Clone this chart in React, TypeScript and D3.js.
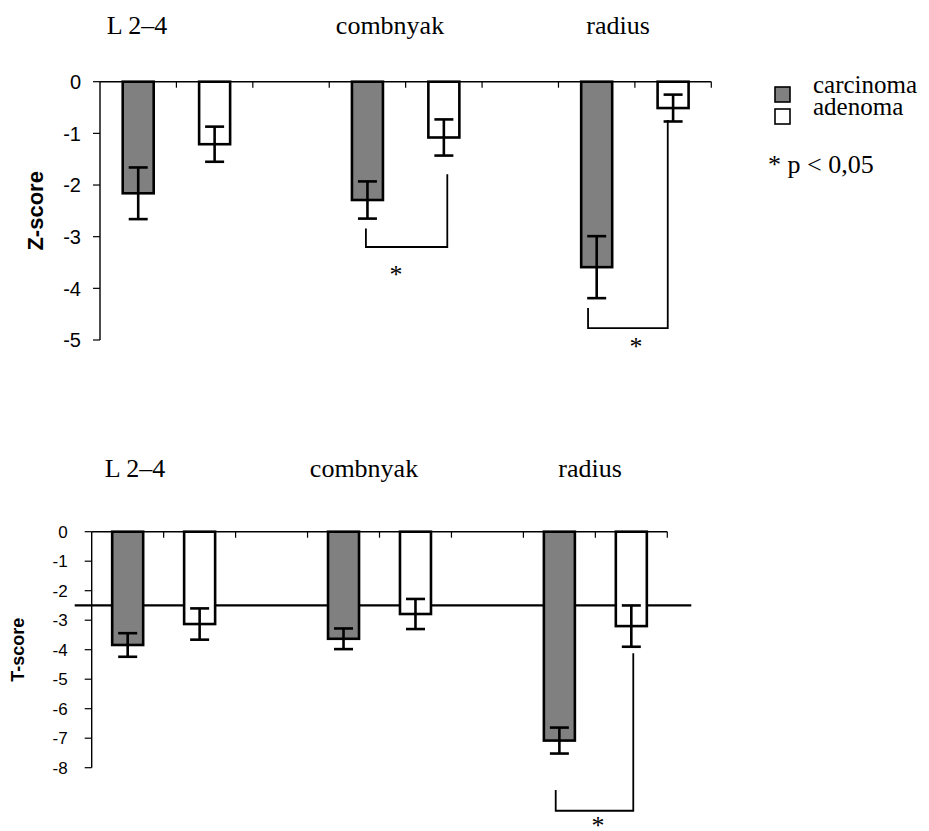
import React from 'react';
import * as d3 from 'd3';

const categories = ['L 2–4', 'combnyak', 'radius'];
const seriesNames = ['carcinoma', 'adenoma'];
const seriesFill = ['#808080', '#ffffff'];

const zCarcinoma = [-2.16, -2.29, -3.59];
const zCarcinomaErr = [0.5, 0.36, 0.6];
const zAdenoma = [-1.21, -1.08, -0.51];
const zAdenomaErr = [0.34, 0.35, 0.26];
const zTicks = [0, -1, -2, -3, -4, -5];

const tCarcinoma = [-3.84, -3.63, -7.08];
const tCarcinomaErr = [0.4, 0.35, 0.44];
const tAdenoma = [-3.13, -2.79, -3.2];
const tAdenomaErr = [0.53, 0.51, 0.7];
const tTicks = [0, -1, -2, -3, -4, -5, -6, -7, -8];
const tThreshold = -2.5;

// significance brackets: [left slot pos, left top value, bottom value, right slot pos, right top value, star slot pos, star value]
const zBrackets = [
  [3.48, -2.84, -3.2, 4.545, -1.79, 3.874, -3.66],
  [6.387, -4.38, -4.77, 7.43, -0.74, 7.015, -5.05],
];
const tBrackets = [[6.449, -8.76, -9.46, 7.527, -4.12, 7.037, -9.84]];

const slots = d3.range(8);

type PanelProps = {
  top: number;
  x0: number;
  x1: number;
  yMin: number;
  yBottom: number;
  ticks: number[];
  carc: number[];
  carcErr: number[];
  aden: number[];
  adenErr: number[];
  brackets: number[][];
  threshold?: number;
  title: string;
  titleX: number;
  titleSize: number;
  tickSize: number;
  tickGap: number;
  catLabelY: number;
  catLabelX: number[];
};

const serif = "'Liberation Serif', 'Times New Roman', serif";
const sans = "'Liberation Sans', Arial, sans-serif";

function Panel(p: PanelProps) {
  const x = d3.scaleBand<number>().domain(slots).range([p.x0, p.x1]).paddingInner(0).paddingOuter(0);
  const bw = x.bandwidth();
  const barW = 31;
  const slotX = d3.scaleLinear().domain([0, 8]).range([p.x0, p.x1]);
  const y = d3.scaleLinear().domain([0, p.yMin]).range([p.top, p.yBottom]);
  const bars: { slot: number; v: number; e: number; s: number }[] = [];
  categories.forEach((c, g) => {
    bars.push({ slot: g * 3, v: p.carc[g], e: p.carcErr[g], s: 0 });
    bars.push({ slot: g * 3 + 1, v: p.aden[g], e: p.adenErr[g], s: 1 });
  });
  const capW = 19;
  return (
    <g>
      {categories.map((c, i) => (
        <text key={c} x={p.catLabelX[i]} y={p.catLabelY} textAnchor="middle" fontFamily={serif} fontSize={26}>
          {c}
        </text>
      ))}
      {p.threshold !== undefined && (
        <line x1={p.x0 - 17} x2={p.x1 + 24} y1={y(p.threshold)} y2={y(p.threshold)} stroke="#000" strokeWidth={2.2} />
      )}
      {bars.map((b) => {
        const cx = (x(b.slot) as number) + bw / 2;
        return (
          <g key={b.slot}>
            <rect x={cx - barW / 2} y={y(0)} width={barW} height={y(b.v) - y(0)} fill={seriesFill[b.s]} stroke="#000" strokeWidth={2.6} />
            <line x1={cx} x2={cx} y1={y(b.v + b.e)} y2={y(b.v - b.e)} stroke="#000" strokeWidth={2.6} />
            <line x1={cx - capW / 2} x2={cx + capW / 2} y1={y(b.v + b.e)} y2={y(b.v + b.e)} stroke="#000" strokeWidth={2.6} />
            <line x1={cx - capW / 2} x2={cx + capW / 2} y1={y(b.v - b.e)} y2={y(b.v - b.e)} stroke="#000" strokeWidth={2.6} />
          </g>
        );
      })}
      <line x1={p.x0} x2={p.x1} y1={y(0)} y2={y(0)} stroke="#000" strokeWidth={1.4} />
      {d3.range(1, 9).map((i) => (
        <line key={i} x1={slotX(i)} x2={slotX(i)} y1={y(0)} y2={y(0) + 6} stroke="#000" strokeWidth={1.2} />
      ))}
      <line x1={p.x0} x2={p.x0} y1={y(0)} y2={y(p.yMin)} stroke="#000" strokeWidth={1.4} />
      {p.ticks.map((t) => (
        <g key={t}>
          <line x1={p.x0 - 7} x2={p.x0} y1={y(t)} y2={y(t)} stroke="#000" strokeWidth={1.2} />
          <text x={p.x0 - p.tickGap} y={y(t)} dy="0.36em" textAnchor="end" fontFamily={sans} fontSize={p.tickSize}>
            {String(t)}
          </text>
        </g>
      ))}
      <text
        transform={`translate(${p.titleX},${y(p.yMin / 2)}) rotate(-90)`}
        textAnchor="middle"
        dy="0.36em"
        fontFamily={sans}
        fontWeight="bold"
        fontSize={p.titleSize}
      >
        {p.title}
      </text>
      {p.brackets.map((b, i) => {
        const lx = slotX(b[0]);
        const rx = slotX(b[3]);
        const path = `M${lx},${y(b[1])}V${y(b[2])}H${rx}V${y(b[4])}`;
        return (
          <g key={i}>
            <path d={path} fill="none" stroke="#000" strokeWidth={1.8} />
            <text x={slotX(b[5])} y={y(b[6]) + 12} textAnchor="middle" fontFamily={serif} fontSize={26}>
              *
            </text>
          </g>
        );
      })}
    </g>
  );
}

export default function App() {
  return (
    <svg width={929} height={831} style={{ position: 'absolute', left: 0, top: 0, background: '#fff' }}>
      <rect width={929} height={831} fill="#fff" />
      <Panel
        top={81.7}
        x0={100}
        x1={711.3}
        yMin={-5}
        yBottom={340}
        ticks={zTicks}
        carc={zCarcinoma}
        carcErr={zCarcinomaErr}
        aden={zAdenoma}
        adenErr={zAdenomaErr}
        brackets={zBrackets}
        title="Z-score"
        titleX={35}
        titleSize={22}
        tickSize={20}
        tickGap={19}
        catLabelY={34}
        catLabelX={[137, 390, 618]}
      />
      <Panel
        top={531.7}
        x0={91.7}
        x1={667.3}
        yMin={-8}
        yBottom={767.7}
        ticks={tTicks}
        carc={tCarcinoma}
        carcErr={tCarcinomaErr}
        aden={tAdenoma}
        adenErr={tAdenomaErr}
        brackets={tBrackets}
        threshold={tThreshold}
        title="T-score"
        titleX={18}
        titleSize={18}
        tickSize={17}
        tickGap={24}
        catLabelY={477}
        catLabelX={[135, 364, 590]}
      />
      {seriesNames.map((s, i) => (
        <g key={s}>
          <rect x={775} y={87 + i * 22} width={15} height={15} fill={seriesFill[i]} stroke="#000" strokeWidth={1.6} />
          <text x={813} y={93 + i * 22} fontFamily={serif} fontSize={25}>
            {s}
          </text>
        </g>
      ))}
      <text x={768} y={173} fontFamily={serif} fontSize={26}>
        * p &lt; 0,05
      </text>
    </svg>
  );
}
